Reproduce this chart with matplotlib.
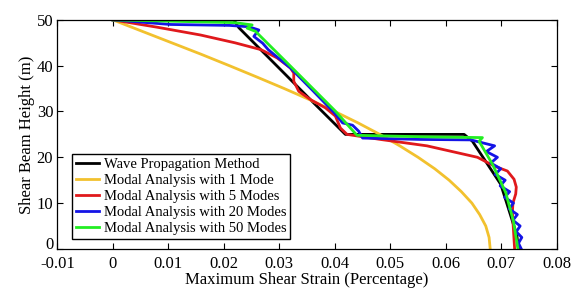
import matplotlib
matplotlib.use("Agg")
import matplotlib.pyplot as plt
import matplotlib.transforms as mtransforms

plt.rcParams['font.family'] = ['Liberation Serif', 'DejaVu Serif']

# ---- data (strain %, height m) ----
wave_x = [0.0, 0.0218, 0.0227, 0.0365, 0.0419, 0.0633, 0.0648, 0.0699, 0.0715, 0.0728, 0.0731]
wave_y = [50, 50, 48.3, 31.5, 25.0, 25.0, 23.5, 14.1, 8.0, 3.0, 0.0]

mode1_y = [50, 47.5, 45, 42.5, 40, 37.5, 35, 32.5, 30, 27.5, 25, 22.5, 20, 17.5, 15,
           12.5, 10, 7.5, 5, 2.5, 0]
mode1_x = [0.0, 0.0053, 0.0106, 0.0159, 0.0210, 0.0260, 0.0309, 0.0356, 0.0400, 0.0442,
           0.0481, 0.0517, 0.0550, 0.0580, 0.0606, 0.0628, 0.0647, 0.0661, 0.0672, 0.0678, 0.0680]

mode5_x = [0.0, 0.0080, 0.0158, 0.0220, 0.0267, 0.0296, 0.0320, 0.0326, 0.0326, 0.0335,
           0.0356, 0.0383, 0.0401, 0.0410, 0.0422, 0.0482, 0.0566, 0.0657, 0.0687, 0.0711,
           0.0723, 0.0727, 0.0726, 0.0721, 0.0720, 0.0722, 0.0724]
mode5_y = [50, 48.4, 46.7, 45.0, 43.5, 41.7, 39.5, 38.4, 36.6, 34.4,
           32.6, 30.8, 29.0, 26.4, 25.0, 23.9, 22.5, 20.0, 18.1, 17.0,
           15.2, 13.5, 12.0, 10.0, 8.0, 4.0, 0.0]

mode20_x = [0.0, 0.0104, 0.0210, 0.0245, 0.0263, 0.0254, 0.0270, 0.0280, 0.0320, 0.0360,
            0.0400, 0.0414, 0.0432, 0.0443, 0.0450, 0.0554, 0.0645,
            0.0688, 0.0673, 0.0693, 0.0681, 0.0699, 0.0689, 0.0707, 0.0698, 0.0715,
            0.0706, 0.0722, 0.0714, 0.0729, 0.0721, 0.0734, 0.0727, 0.0737, 0.0731, 0.0736]
mode20_y = [50, 49.0, 48.8, 48.5, 47.8, 46.4, 44.9, 43.5, 39.5, 34.6,
            29.6, 27.5, 27.0, 25.7, 24.2, 23.9, 23.8,
            22.5, 21.25, 20.0, 18.75, 17.5, 16.25, 15.0, 13.75, 12.5,
            11.25, 10.0, 8.75, 7.5, 6.25, 5.0, 3.75, 2.5, 1.25, 0.0]

mode50_x = [0.0, 0.0220, 0.0251, 0.0242, 0.0257, 0.0320, 0.0400, 0.0431, 0.0440, 0.0550,
            0.0666, 0.0660, 0.0684, 0.0708, 0.0722, 0.0730]
mode50_y = [50, 49.4, 48.9, 48.2, 47.5, 39.9, 30.2, 26.0, 24.8, 24.5,
            24.3, 23.5, 18.5, 12.3, 6.0, 0.0]

labels = ["Wave Propagation Method", "Modal Analysis with 1 Mode",
          "Modal Analysis with 5 Modes", "Modal Analysis with 20 Modes",
          "Modal Analysis with 50 Modes"]
colors = ["#000000", "#F2C12E", "#E0191C", "#1414E6", "#22EE22"]

xticks = [-0.01, 0, 0.01, 0.02, 0.03, 0.04, 0.05, 0.06, 0.07, 0.08]
xticklabels = ["-0.01", "0", "0.01", "0.02", "0.03", "0.04", "0.05", "0.06", "0.07", "0.08"]
yticks = [0, 10, 20, 30, 40, 50]

fig = plt.figure(figsize=(5.74, 2.97), dpi=100)
ax = fig.add_axes([0.1000, 0.1620, 0.8700, 0.7710])

series = [(wave_x, wave_y), (mode1_x, mode1_y), (mode5_x, mode5_y),
          (mode20_x, mode20_y), (mode50_x, mode50_y)]
for (xs, ys), c, lab in zip(series, colors, labels):
    ax.plot(xs, ys, color=c, lw=2.0, label=lab, solid_joinstyle='round')

ax.set_xlim(-0.01, 0.08)
ax.set_ylim(0, 50)
ax.set_xticks(xticks)
ax.set_xticklabels(xticklabels)
ax.set_yticks(yticks)
ax.tick_params(direction='in', top=True, right=True, labelsize=12, length=4, width=0.8)
ax.tick_params(axis='x', pad=5)
ax.tick_params(axis='y', pad=3)
for s in ax.spines.values():
    s.set_linewidth(0.9)
ax.set_xlabel("Maximum Shear Strain (Percentage)", fontsize=12, labelpad=0)
ax.set_ylabel("Shear Beam Height (m)", fontsize=12, labelpad=1)

# nudge the y "0" label up slightly so it clears "-0.01"
ylab0 = ax.get_yticklabels()[0]
ylab0.set_transform(ylab0.get_transform() +
                    mtransforms.ScaledTranslation(0, 4 / 72, fig.dpi_scale_trans))

leg = ax.legend(loc='lower left', bbox_to_anchor=(0.03, 0.043), borderaxespad=0,
                fontsize=10.5, fancybox=False, edgecolor='black', framealpha=1,
                handlelength=1.6, handletextpad=0.3, labelspacing=0.2,
                borderpad=0.25)
leg.get_frame().set_linewidth(1.0)

fig.savefig("out.png", dpi=100)
